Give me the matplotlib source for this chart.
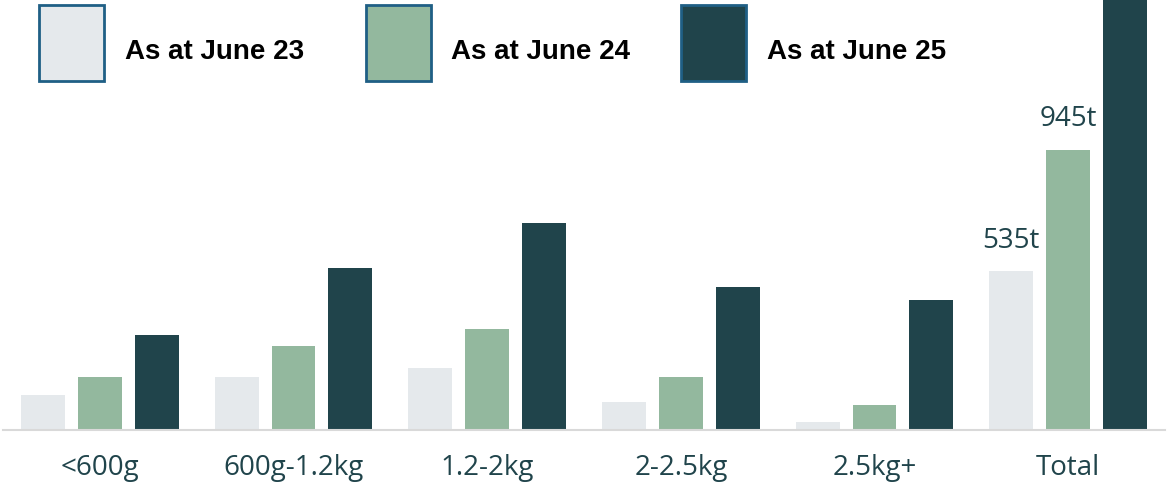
import numpy as np
import matplotlib.pyplot as plt
from matplotlib.patches import Rectangle

categories = ['<600g', '600g-1.2kg', '1.2-2kg', '2-2.5kg', '2.5kg+', 'Total']
series = ['As at June 23', 'As at June 24', 'As at June 25']
june23 = [118, 178, 209, 94, 26, 535]
june24 = [178, 283, 340, 179, 85, 945]
june25 = [319, 546, 698, 481, 438, 1650]
colors = ['#e5e9ec', '#93b89e', '#20444b']
text_col = '#20444b'

fig = plt.figure(figsize=(11.67, 4.83), dpi=100)
ax = fig.add_axes([3/1167, 53/483, 1162/1167, 430/483])

x = np.arange(len(categories))
w = 0.227
step = 0.294
for i, vals in enumerate([june23, june24, june25]):
    ax.bar(x + (i - 1) * step, vals, width=w, color=colors[i], zorder=2)

# value labels on the Total group
for i, vals in enumerate([june23, june24]):
    ax.text(x[-1] + (i - 1) * step, vals[-1] + 55, f'{vals[-1]}t',
            ha='center', va='bottom', fontsize=20, color=text_col,
            family='Open Sans')

ax.set_xlim(-0.5, 5.5)
ax.set_ylim(0, 1449)
ax.set_yticks([])
ax.set_xticks(x)
ax.set_xticklabels(categories, fontsize=20, color=text_col, family='Open Sans')
ax.tick_params(axis='x', length=0, pad=17)
for s in ['top', 'left', 'right']:
    ax.spines[s].set_visible(False)
ax.spines['bottom'].set_color('#d9d9d9')
ax.spines['bottom'].set_linewidth(1.5)
ax.spines['bottom'].set_zorder(3)

# legend boxes along the top
box_x = [39, 366, 681]
text_x = [125, 451, 767]
for bx, tx, c, s in zip(box_x, text_x, colors, series):
    fig.patches.append(Rectangle((bx / 1167, 1 - 81 / 483), 65 / 1167, 76 / 483,
                                 transform=fig.transFigure, facecolor=c,
                                 edgecolor='#1f5f85', linewidth=2, zorder=5))
    fig.text(tx / 1167, 1 - 52 / 483, s, fontsize=20, fontweight='bold',
             family='Liberation Sans', va='center', ha='left', zorder=6)

fig.savefig('out.png', dpi=100)
